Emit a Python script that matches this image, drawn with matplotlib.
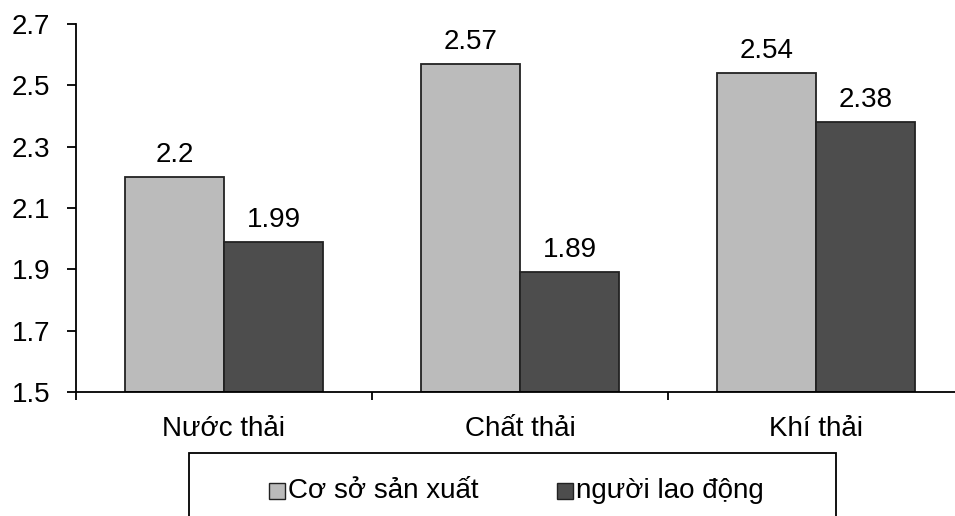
import numpy as np
import matplotlib.pyplot as plt
from matplotlib.patches import Rectangle

plt.rcParams['font.family'] = ['Liberation Sans', 'DejaVu Sans']

categories = ["Nước thải", "Chất thải", "Khí thải"]
series_names = ["Cơ sở sản xuất", "người lao động"]
co_so = [2.2, 2.57, 2.54]
nguoi_ld = [1.99, 1.89, 2.38]
value_labels = [["2.2", "2.57", "2.54"], ["1.99", "1.89", "2.38"]]
yticks = [1.5, 1.7, 1.9, 2.1, 2.3, 2.5, 2.7]

colors = ["#bbbbbb", "#4d4d4d"]
W, H = 955, 516
FS = 20

fig = plt.figure(figsize=(W / 100, H / 100), dpi=100)
# axes runs past the right edge, as in the cropped original
ax = fig.add_axes([76 / W, 1 - 392 / H, (964 - 76) / W, (392 - 24) / H])

x = np.arange(len(categories))
w = 0.335
for i, vals in enumerate([co_so, nguoi_ld]):
    pos = x + (i - 0.5) * w
    ax.bar(pos, np.array(vals) - 1.5, bottom=1.5, width=w, color=colors[i],
           edgecolor="#222222", linewidth=1.3)
    for p, v, lab in zip(pos, vals, value_labels[i]):
        ax.text(p, v + 0.03, lab, ha="center", va="bottom", fontsize=FS)

ax.set_xlim(-0.5, 2.5)
ax.set_ylim(1.5, 2.7)
ax.set_yticks(yticks)
ax.set_yticklabels(["%.1f" % t for t in yticks], fontsize=FS)
ax.set_xticks([-0.5, 0.5, 1.5, 2.5])
ax.set_xticklabels([])
ax.set_xticks(x, minor=True)
ax.set_xticklabels(categories, minor=True, fontsize=FS)
ax.tick_params(axis="x", which="minor", length=0, pad=17)
ax.tick_params(axis="x", which="major", direction="out", length=6, width=1.3)
ax.tick_params(axis="y", direction="out", length=6.5, width=1.3, pad=12)
for s in ["top", "right"]:
    ax.spines[s].set_visible(False)
for s in ["left", "bottom"]:
    ax.spines[s].set_linewidth(1.3)

# legend box, cut off by the bottom edge like the original
px = lambda v: v / W
py = lambda v: 1 - v / H
fig.patches.append(Rectangle((px(189), py(540)), px(836) - px(189), py(453) - py(540),
                             transform=fig.transFigure, facecolor="white",
                             edgecolor="black", linewidth=1.3))
leg_y = 491
for name, c, hx in zip(series_names, colors, [269, 557]):
    fig.patches.append(Rectangle((px(hx), py(leg_y + 8)), px(16), 16 / H,
                                 transform=fig.transFigure, facecolor=c,
                                 edgecolor="#222222", linewidth=1))
    fig.text(px(hx + 19), py(leg_y), name, fontsize=FS, ha="left", va="center")

fig.savefig("out.png", dpi=100)
